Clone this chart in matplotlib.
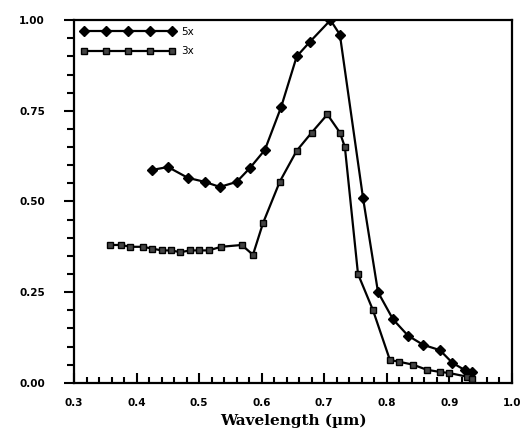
import matplotlib
matplotlib.use("Agg")
import matplotlib.pyplot as plt
from matplotlib.ticker import MultipleLocator

# 5x series
x5 = [0.425, 0.45, 0.482, 0.509, 0.533, 0.56, 0.581, 0.605, 0.631, 0.656, 0.677,
      0.71, 0.725, 0.762, 0.786, 0.81, 0.834, 0.858, 0.885, 0.905, 0.925, 0.936]
y5 = [0.587, 0.595, 0.565, 0.554, 0.54, 0.554, 0.592, 0.642, 0.76, 0.90, 0.94,
      1.0, 0.96, 0.51, 0.25, 0.175, 0.13, 0.105, 0.09, 0.055, 0.035, 0.03]

# 3x series
x3 = [0.357, 0.375, 0.39, 0.41, 0.425, 0.44, 0.455, 0.47, 0.485, 0.50, 0.515,
      0.535, 0.568, 0.586, 0.602, 0.629, 0.656, 0.68, 0.705, 0.725, 0.733,
      0.754, 0.778, 0.805, 0.82, 0.842, 0.864, 0.885, 0.90, 0.928, 0.936]
y3 = [0.38, 0.38, 0.375, 0.375, 0.37, 0.365, 0.365, 0.36, 0.365, 0.365, 0.365,
      0.375, 0.38, 0.353, 0.44, 0.555, 0.64, 0.69, 0.74, 0.69, 0.65,
      0.30, 0.20, 0.063, 0.058, 0.05, 0.036, 0.03, 0.027, 0.017, 0.01]

fig = plt.figure(figsize=(5.26, 4.37), dpi=100)
ax = fig.add_axes([0.141, 0.124, 0.832, 0.830])

ax.plot(x5, y5, color="black", lw=1.6, marker="D", ms=5, mfc="black", label="5x")
ax.plot(x3, y3, color="black", lw=1.6, marker="s", ms=5, mfc="#444444", label="3x")

ax.set_xlim(0.3, 1.0)
ax.set_ylim(0.0, 1.0)
ax.xaxis.set_minor_locator(MultipleLocator(0.02))
ax.yaxis.set_minor_locator(MultipleLocator(0.05))
ax.set_xticks([0.3, 0.4, 0.5, 0.6, 0.7, 0.8, 0.9, 1.0])
ax.set_xticklabels(["0.3", "0.4", "0.5", "0.6", "0.7", "0.8", "0.9", "1.0"])
ax.set_yticks([0.0, 0.25, 0.5, 0.75, 1.0])
ax.set_yticklabels(["0.00", "0.25", "0.50", "0.75", "1.00"])

ax.tick_params(axis="x", which="both", direction="in", width=1.5)
ax.tick_params(axis="x", which="major", length=7, pad=11)
ax.tick_params(axis="x", which="minor", length=4)
ax.tick_params(axis="y", which="both", direction="out", width=1.5)
ax.tick_params(axis="y", which="major", length=7, pad=14)
ax.tick_params(axis="y", which="minor", length=5)
for lab in ax.get_xticklabels() + ax.get_yticklabels():
    lab.set_fontsize(7.5)
    lab.set_fontweight("bold")

for s in ax.spines.values():
    s.set_linewidth(1.6)

ax.set_xlabel("Wavelength (\u00b5m)", fontsize=11, fontweight="bold", family="serif", labelpad=4)

ax.legend(loc="upper left", frameon=False, fontsize=7.5, handlelength=9,
          numpoints=5, borderaxespad=0.25, labelspacing=0.9, handletextpad=0.6)

fig.savefig("out.png", dpi=100)
